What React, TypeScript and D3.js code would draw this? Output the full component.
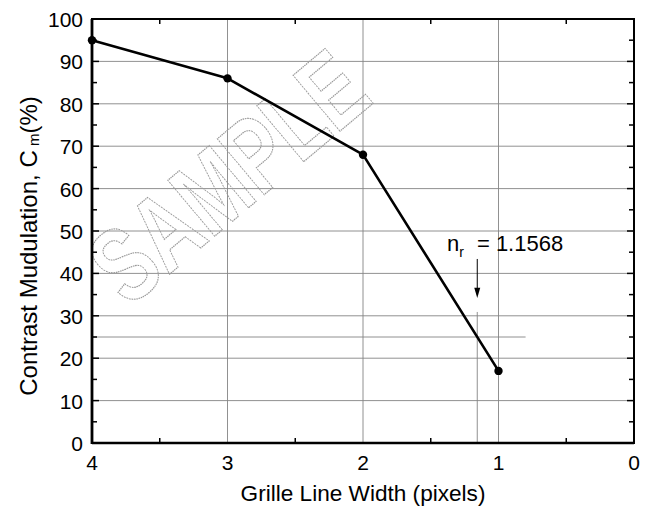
import React from "react";
import * as d3 from "d3";

// chart values
const lineWidths = [4, 3, 2, 1];
const modulation = [95, 86, 68, 17];
const xTickLabels = [4, 3, 2, 1, 0];
const xMinorTicks = [3.5, 2.5, 1.5, 0.5];
const yTickLabels = [0, 10, 20, 30, 40, 50, 60, 70, 80, 90, 100];
const yMinorTicks = [5, 15, 25, 35, 45, 55, 65, 75, 85, 95];
const nrValue = 1.1568;
const thresholdLevel = 25;

const W = 645;
const H = 506;
const margin = { left: 92, right: 11, top: 19, bottom: 63 };
const FONT = "'Liberation Sans', Arial, Helvetica, sans-serif";

const App = () => {
  const x = d3.scaleLinear().domain([4, 0]).range([margin.left, W - margin.right]);
  const y = d3.scaleLinear().domain([0, 100]).range([H - margin.bottom, margin.top]);
  const [x0, x1] = x.range();
  const [yb, yt] = y.range();

  const line = d3
    .line<number>()
    .x((d, i) => x(lineWidths[i]))
    .y((d) => y(d));

  const grid = "#858585";
  const tick = 5;
  const nx = x(nrValue);

  return (
    <svg
      width={W}
      height={H}
      style={{ position: "absolute", left: 0, top: 0, background: "#fff" }}
      fontFamily={FONT}
      fill="#000"
    >
      <rect width={W} height={H} fill="#fff" />
      {/* grid lines */}
      {yTickLabels.slice(1, -1).map((v) => (
        <line key={"gy" + v} x1={x0} x2={x1} y1={y(v)} y2={y(v)} stroke={grid} strokeWidth={0.9} />
      ))}
      {xTickLabels.slice(1, -1).map((v) => (
        <line key={"gx" + v} x1={x(v)} x2={x(v)} y1={yt} y2={yb} stroke={grid} strokeWidth={0.9} />
      ))}
      {/* threshold level and resolution marker */}
      <line x1={x0} x2={x(0.8)} y1={y(thresholdLevel)} y2={y(thresholdLevel)} stroke={grid} strokeWidth={0.9} />
      <line x1={nx} x2={nx} y1={y(30.9)} y2={yb} stroke={grid} strokeWidth={0.9} />

      {/* watermark */}
      <text
        transform="translate(252,205) rotate(-40) scale(0.73,1)"
        textAnchor="middle"
        fontSize={106}
        fontWeight="bold"
        fill="none"
        stroke="#9a9a9a"
        strokeWidth={1.2}
        strokeDasharray="2 1"
      >
        SAMPLE
      </text>

      {/* data line */}
      <path d={line(modulation) || ""} fill="none" stroke="#000" strokeWidth={2.6} strokeLinejoin="round" />
      {modulation.map((v, i) => (
        <circle key={"p" + i} cx={x(lineWidths[i])} cy={y(v)} r={4.2} fill="#000" />
      ))}

      {/* frame */}
      <rect x={x0} y={yt} width={x1 - x0} height={yb - yt} fill="none" stroke="#000" strokeWidth={2} />
      <line x1={x0} x2={x0} y1={yt} y2={yb + 1} stroke="#000" strokeWidth={2.8} />
      <line x1={x0} x2={x1} y1={yb} y2={yb} stroke="#000" strokeWidth={2.6} />

      {/* minor ticks */}
      {xMinorTicks.map((v) => (
        <g key={"mx" + v}>
          <line x1={x(v)} x2={x(v)} y1={yb} y2={yb - tick} stroke="#000" strokeWidth={1.5} />
          <line x1={x(v)} x2={x(v)} y1={yt} y2={yt + tick} stroke="#000" strokeWidth={1.5} />
        </g>
      ))}
      {yMinorTicks.map((v) => (
        <g key={"my" + v}>
          <line x1={x0} x2={x0 + tick} y1={y(v)} y2={y(v)} stroke="#000" strokeWidth={1.5} />
          <line x1={x1} x2={x1 - tick} y1={y(v)} y2={y(v)} stroke="#000" strokeWidth={1.5} />
        </g>
      ))}
      {yTickLabels.map((v) => (
        <g key={"my2" + v}>
          <line x1={x0} x2={x0 + tick + 2} y1={y(v)} y2={y(v)} stroke="#000" strokeWidth={1.5} />
          <line x1={x1} x2={x1 - tick - 2} y1={y(v)} y2={y(v)} stroke="#000" strokeWidth={1.5} />
        </g>
      ))}

      {/* tick labels */}
      {xTickLabels.map((v) => (
        <text key={"tx" + v} x={x(v)} y={yb + 27} textAnchor="middle" fontSize={21}>
          {v}
        </text>
      ))}
      {yTickLabels.map((v) => (
        <text key={"ty" + v} x={x0 - 9} y={y(v) + 8} textAnchor="end" fontSize={21}>
          {v}
        </text>
      ))}

      {/* axis titles */}
      <text x={(x0 + x1) / 2} y={501} textAnchor="middle" fontSize={22.6}>
        Grille Line Width (pixels)
      </text>
      <text transform="translate(37,246) rotate(-90)" textAnchor="middle" fontSize={24}>
        Contrast Mudulation, C
        <tspan fontSize={15} dy={2}> m</tspan>
        <tspan dy={-2}>(%)</tspan>
      </text>

      {/* annotation */}
      <text x={447} y={251} fontSize={22} fill="#000">
        n
        <tspan fontSize={14} dy={6}>r</tspan>
        <tspan dy={-6} dx={13}>= 1.1568</tspan>
      </text>
      <line x1={nx} x2={nx} y1={y(43.4)} y2={y(36)} stroke="#000" strokeWidth={1} />
      <path d={`M${nx - 3},${y(36.6)} L${nx + 3},${y(36.6)} L${nx},${y(34.2)} Z`} fill="#000" />
    </svg>
  );
};

export default App;
